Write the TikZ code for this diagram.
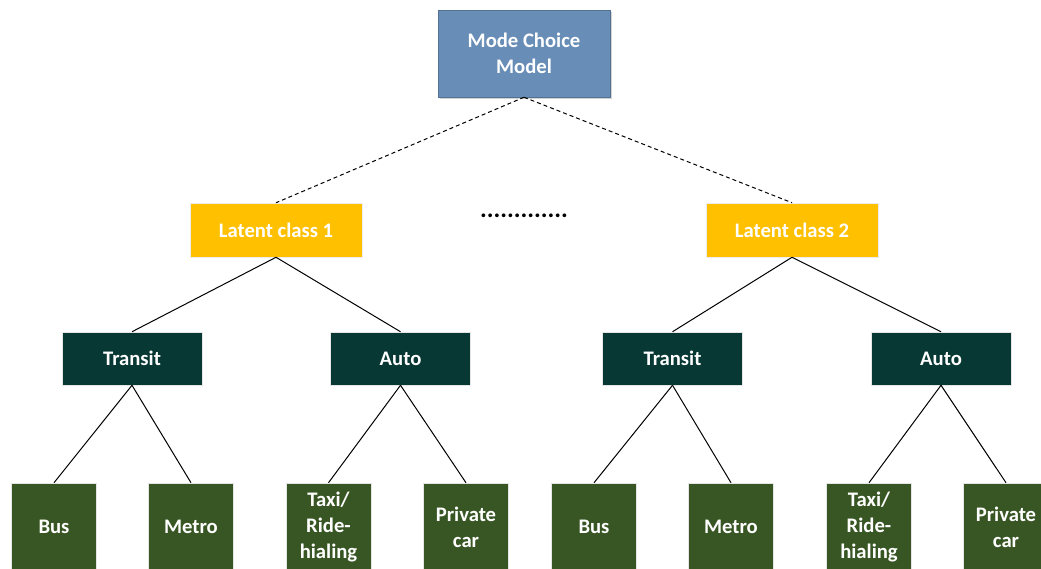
\documentclass[tikz,border=0pt]{standalone}
\usepackage{fontspec}
\setmainfont{Carlito}
\usetikzlibrary{shadows}
\definecolor{modeblue}{RGB}{104,141,182}
\definecolor{classyellow}{RGB}{255,192,0}
\definecolor{nestteal}{RGB}{8,56,52}
\definecolor{altgreen}{RGB}{56,86,36}
\begin{document}
\begin{tikzpicture}[x=0.75pt, y=-0.75pt,
    box/.style={inner sep=0pt, align=center, text=white,
      font=\fontsize{15.5}{19.5}\selectfont\bfseries},
    modebox/.style={box, fill=modeblue, draw=modeblue!80!black, thin,
      minimum width=129pt, minimum height=65.25pt,
      drop shadow={shadow xshift=1.5pt, shadow yshift=-1.5pt, opacity=0.35}},
    classbox/.style={box, fill=classyellow, draw=white!85!gray,
      minimum width=129pt, minimum height=40.5pt},
    nestbox/.style={box, fill=nestteal, draw=white!80!gray,
      minimum width=105pt, minimum height=39.75pt},
    altbox/.style={box, fill=altgreen, draw=white!80!gray,
      minimum width=63.75pt, minimum height=66pt},
    link/.style={black, line width=0.75pt}]
  \useasboundingbox (0,0) rectangle (1041,568);

  % Top
  \node[modebox] (mode) at (524,53.5) {Mode Choice\\Model};

  % Latent classes
  \node[classbox] (lc1) at (276,230) {Latent class 1};
  \node[classbox] (lc2) at (792,230) {Latent class 2};
  \node[font=\fontsize{19}{20}\selectfont\bfseries, inner sep=0pt] (dots) at (524,215.5) {.............};

  % Nests
  \node[nestbox] (tr1) at (132,358.5)   {Transit};
  \node[nestbox] (au1) at (400.5,358.5) {Auto};
  \node[nestbox] (tr2) at (672.5,358.5) {Transit};
  \node[nestbox] (au2) at (941,358.5)   {Auto};

  % Alternatives
  \node[altbox] (bus1)  at (54,527)   {Bus};
  \node[altbox] (met1)  at (191,527)  {Metro};
  \node[altbox] (taxi1) at (328.5,527){Taxi/\\Ride-\\hialing};
  \node[altbox] (car1)  at (466,527)  {Private\\car};
  \node[altbox] (bus2)  at (594,527)  {Bus};
  \node[altbox] (met2)  at (731,527)  {Metro};
  \node[altbox] (taxi2) at (869,527)  {Taxi/\\Ride-\\hialing};
  \node[altbox] (car2)  at (1006,527) {Private\\car};

  % Links
  \draw[link, dash pattern=on 3pt off 2.25pt] (mode.south) -- (lc1.north);
  \draw[link, dash pattern=on 3pt off 2.25pt] (mode.south) -- (lc2.north);

  \draw[link] (lc1.south) -- (tr1.north);
  \draw[link] (lc1.south) -- (au1.north);
  \draw[link] (lc2.south) -- (tr2.north);
  \draw[link] (lc2.south) -- (au2.north);

  \draw[link] (tr1.south) -- (bus1.north);
  \draw[link] (tr1.south) -- (met1.north);
  \draw[link] (au1.south) -- (taxi1.north);
  \draw[link] (au1.south) -- (car1.north);
  \draw[link] (tr2.south) -- (bus2.north);
  \draw[link] (tr2.south) -- (met2.north);
  \draw[link] (au2.south) -- (taxi2.north);
  \draw[link] (au2.south) -- (car2.north);

\end{tikzpicture}
\end{document}
